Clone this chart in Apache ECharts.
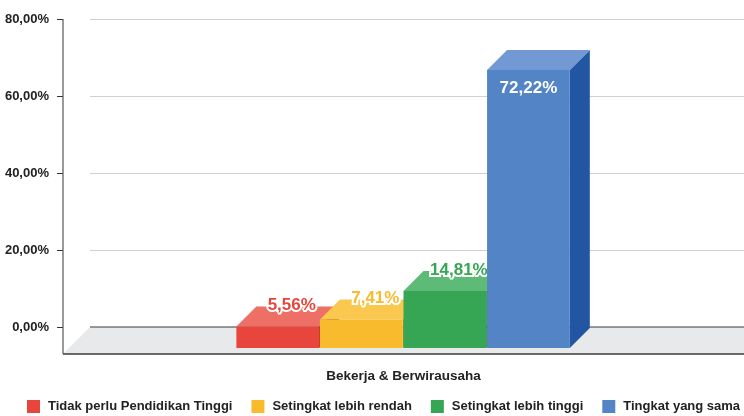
<!DOCTYPE html>
<html>
<head>
<meta charset="utf-8">
<script src="https://cdn.jsdelivr.net/npm/echarts@6/dist/echarts.min.js"></script>
<style>
html,body{margin:0;padding:0;background:#fff}
#chart{width:744px;height:416px}
</style>
</head>
<body>
<div id="chart"></div>
<script>
// Data
const categories = ['Bekerja & Berwirausaha'];
const seriesNames = ['Tidak perlu Pendidikan Tinggi', 'Setingkat lebih rendah', 'Setingkat lebih tinggi', 'Tingkat yang sama'];
const values = [5.56, 7.41, 14.81, 72.22];
const yMin = 0, yMax = 80, yStep = 20;

// Face colours for each box: front, top and right side
const palette = [
  { front: '#e8453c', top: '#ee6f65', side: '#a9221a' },
  { front: '#f8bb2d', top: '#fac84e', side: '#c38a0c' },
  { front: '#37a654', top: '#5dbb77', side: '#1f7a3a' },
  { front: '#5384c6', top: '#7299d3', side: '#2256a2' }
];

const FONT = 'Liberation Sans, Arial, sans-serif';
const FLOOR_DEPTH = 27;   // depth of the floor plane in px
const BOX_DX = 20, BOX_DY = 20; // depth offset of each box
const fmtPct = v => v.toFixed(2).replace('.', ',') + '%';

const chart = echarts.init(document.getElementById('chart'));

// Floor, front edge and left axis line, drawn from the back-wall grid
const floorSeries = {
  type: 'custom',
  name: '__floor',
  xAxisIndex: 0,
  yAxisIndex: 0,
  z: 1,
  silent: true,
  data: [[0, 0]],
  renderItem: function (params, api) {
    const cs = params.coordSys;
    const yb = api.coord([0, yMin])[1];
    const right = cs.x + cs.width;
    const yf = yb + FLOOR_DEPTH;
    const xl = cs.x - FLOOR_DEPTH;
    return {
      type: 'group',
      children: [
        { type: 'polygon', shape: { points: [[cs.x, yb], [right + FLOOR_DEPTH, yb], [right, yf], [xl, yf]] },
          style: { fill: '#e8e9eb' } },
        { type: 'line', shape: { x1: cs.x, y1: yb, x2: right + 5, y2: yb }, style: { stroke: '#3a3a3a', lineWidth: 1.2 } },
        { type: 'line', shape: { x1: xl, y1: yf, x2: right + 5, y2: yf }, style: { stroke: '#3a3a3a', lineWidth: 1.5 } },
        { type: 'line', shape: { x1: xl, y1: cs.y, x2: xl, y2: yf }, style: { stroke: '#555', lineWidth: 1.2 } }
      ]
    };
  }
};

// One 3D box per answer group
function boxSeries(i) {
  const c = palette[i];
  return {
    type: 'custom',
    name: seriesNames[i],
    xAxisIndex: 1,
    yAxisIndex: 2,
    z: 3 + i,
    itemStyle: { color: c.front },
    data: [[0, values[i]]],
    renderItem: function (params, api) {
      const cat = api.value(0), v = api.value(1);
      const base = api.coord([cat, 0]);
      const top = api.coord([cat, v]);
      const band = api.size([1, 0])[0];
      const step = band * 0.1227;
      const bw = step - 0.8;
      const x0 = base[0] - 2 * step + i * step;
      const yT = top[1], yB = base[1];
      const inside = v > 50;
      const label = inside
        ? { type: 'text', z2: 10, style: { x: x0 + bw / 2, y: yT + 18, text: fmtPct(v), textAlign: 'center', textVerticalAlign: 'middle',
            fill: '#ffffff', font: 'bold 17px ' + FONT } }
        : { type: 'text', z2: 10, style: { x: x0 + bw / 2 + 14, y: yT - BOX_DY - 1, text: fmtPct(v), textAlign: 'center', textVerticalAlign: 'middle',
            fill: c.front, stroke: '#ffffff', lineWidth: 4, font: 'bold 17px ' + FONT } };
      return {
        type: 'group',
        children: [
          { type: 'polygon', shape: { points: [[x0 + bw, yT], [x0 + bw + BOX_DX, yT - BOX_DY], [x0 + bw + BOX_DX, yB - BOX_DY], [x0 + bw, yB]] },
            style: { fill: c.side } },
          { type: 'polygon', shape: { points: [[x0, yT], [x0 + bw, yT], [x0 + bw + BOX_DX, yT - BOX_DY], [x0 + BOX_DX, yT - BOX_DY]] },
            style: { fill: c.top } },
          { type: 'rect', shape: { x: x0, y: yT, width: bw, height: yB - yT }, style: { fill: c.front } },
          label
        ]
      };
    }
  };
}

const option = {
  animation: false,
  backgroundColor: '#ffffff',
  textStyle: { fontFamily: FONT },
  grid: [
    { left: 90, right: 0, top: 19, bottom: 89 },   // back wall
    { left: 63, right: 0, top: 40, bottom: 68 }    // front plane of the boxes
  ],
  legend: {
    data: seriesNames,
    left: 27,
    top: 400,
    width: 717,
    padding: 0,
    icon: 'rect',
    itemWidth: 13,
    itemHeight: 13,
    itemGap: 19,
    textStyle: { fontFamily: FONT, fontSize: 13, fontWeight: 'bold', color: '#222', padding: [0, 0, 0, 3] }
  },
  xAxis: [
    { type: 'category', gridIndex: 0, data: categories, show: false },
    { type: 'category', gridIndex: 1, data: categories, position: 'bottom', offset: 6,
      axisLine: { show: false },
      axisTick: { show: true, alignWithLabel: true, length: 6, lineStyle: { color: '#333' } },
      axisLabel: { margin: 15, color: '#222', fontFamily: FONT, fontSize: 13.5, fontWeight: 'bold' } },
    { type: 'category', gridIndex: 1, data: categories, position: 'bottom', offset: 6,
      axisLine: { show: false },
      axisTick: { show: true, inside: true, alignWithLabel: true, length: 18, lineStyle: { color: '#333' } },
      axisLabel: { show: false } }
  ],
  yAxis: [
    { type: 'value', gridIndex: 0, min: yMin, max: yMax, interval: yStep, offset: 27,
      axisLine: { show: false },
      axisTick: { show: true, length: 6, lineStyle: { color: '#333' } },
      axisLabel: { margin: 14, formatter: fmtPct, color: '#222', fontFamily: FONT, fontSize: 13, fontWeight: 'bold' },
      splitLine: { show: true, lineStyle: { color: '#d0d0d0', width: 1 } } },
    { type: 'value', gridIndex: 0, min: yMin, max: yMax, interval: yStep, offset: 27,
      axisLine: { show: false },
      axisTick: { show: true, inside: true, length: 9, lineStyle: { color: '#333' } },
      axisLabel: { show: false },
      splitLine: { show: false } },
    { type: 'value', gridIndex: 1, min: yMin, max: yMax, interval: yStep, show: false, splitLine: { show: false } }
  ],
  series: [floorSeries].concat(values.map((_, i) => boxSeries(i)))
};

chart.setOption(option);
</script>
</body>
</html>
